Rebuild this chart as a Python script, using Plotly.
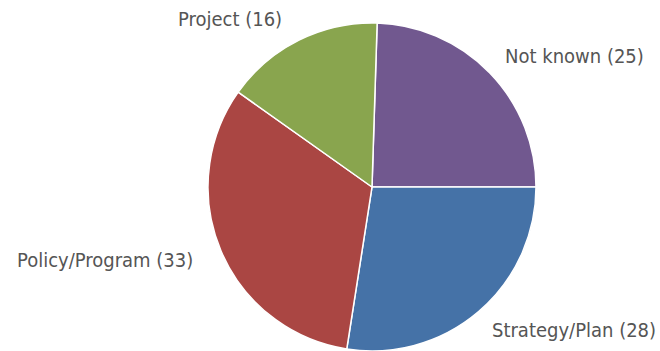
import math
import plotly.graph_objects as go

labels = ["Not known", "Strategy/Plan", "Policy/Program", "Project"]
values = [25, 28, 33, 16]
colors = ["#71588F", "#4572A7", "#AA4643", "#89A54E"]

W, H = 660, 351
cx, cy, R = 372, 187, 164
rot = 1.8          # degrees: first slice starts slightly right of 12 o'clock
dist = 24          # label distance from pie edge (px)
label_dx = -4      # horizontal offset of label ring centre (px)

fig = go.Figure(go.Pie(
    labels=labels, values=values, sort=False, direction="clockwise", rotation=rot,
    marker=dict(colors=colors, line=dict(color="#FFFFFF", width=1.5)),
    textinfo="none", hoverinfo="label+value", showlegend=False,
    domain=dict(x=[(cx - R) / W, (cx + R) / W], y=[0, 2 * R / H]),
))

total = sum(values)
cum = 0
annotations = []
for lab, v in zip(labels, values):
    mid = math.radians(rot) + (cum + v / 2) / total * 2 * math.pi
    cum += v
    sx, sy = math.sin(mid), math.cos(mid)
    px = cx + label_dx + (R + dist) * sx
    py = cy - (R + dist) * sy
    annotations.append(dict(
        x=px / W, y=1 - py / H, xref="paper", yref="paper",
        text=f"{lab} ({v})", showarrow=False,
        xanchor="right" if sx < 0 else "left", yanchor="middle",
        font=dict(family="DejaVu Sans Condensed, DejaVu Sans", size=20, color="#555555"),
    ))

fig.update_layout(
    width=W, height=H, margin=dict(l=0, r=0, t=0, b=0),
    paper_bgcolor="#FFFFFF", plot_bgcolor="#FFFFFF",
    annotations=annotations,
)
fig.write_html("out.html")
